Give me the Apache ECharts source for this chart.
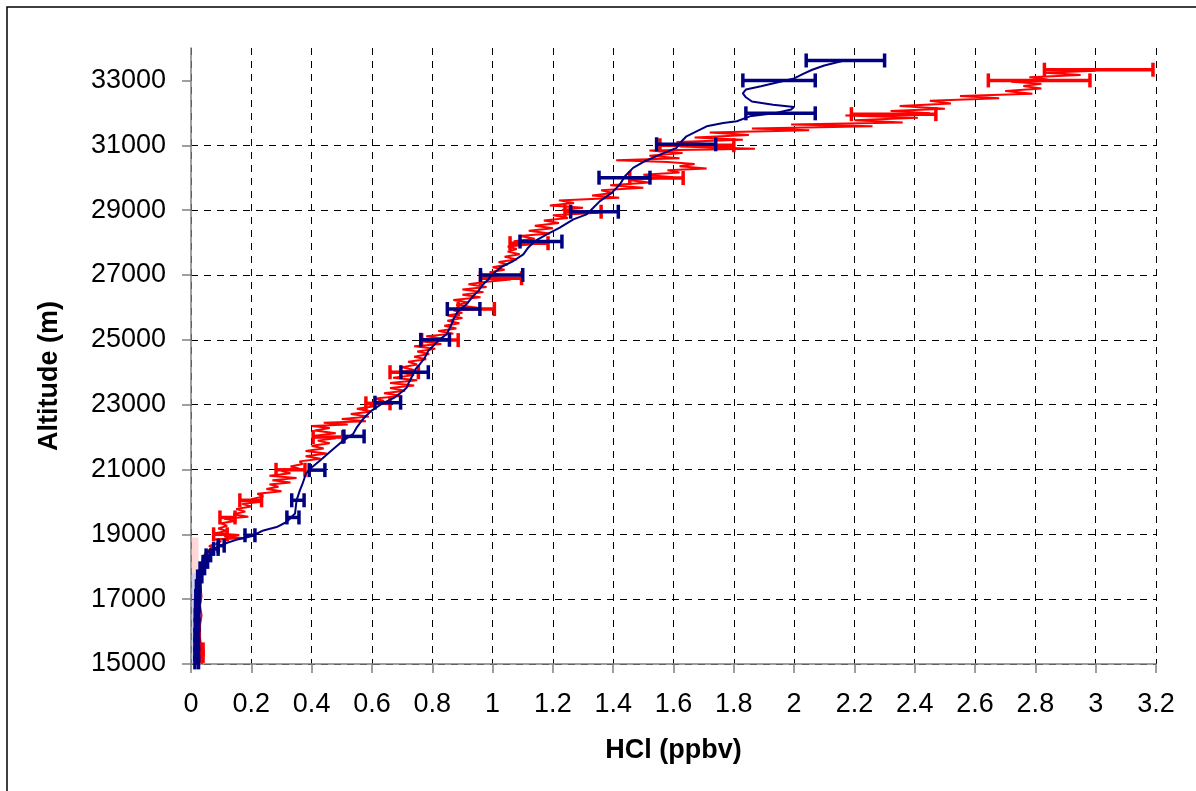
<!DOCTYPE html>
<html>
<head>
<meta charset="utf-8">
<script src="https://cdn.jsdelivr.net/npm/echarts@6/dist/echarts.min.js"></script>
<style>
html,body{margin:0;padding:0;background:#fff;}
#chart{width:1196px;height:791px;}
</style>
</head>
<body>
<div id="chart"></div>
<script>
// ---- Data (HCl mixing ratio in ppbv vs altitude in m) ----
const xTicks = [0, 0.2, 0.4, 0.6, 0.8, 1, 1.2, 1.4, 1.6, 1.8, 2, 2.2, 2.4, 2.6, 2.8, 3, 3.2];
const yTicks = [15000, 17000, 19000, 21000, 23000, 25000, 27000, 29000, 31000, 33000];

// red profile: [HCl, altitude]
const redProfile = [
[0.035,15000],[0.04,15150],[0.03,15300],[0.035,15500],[0.03,15800],[0.03,16200],[0.035,16500],[0.03,16800],[0.035,17100],[0.03,17400],[0.025,17700],[0.03,17900],[0.035,18100],[0.04,18300],[0.05,18450],[0.07,18580],[0.06,18640],[0.09,18720],[0.1,18800],[0.08,18850],
[0.18,18880],[0.11,18930],[0.16,18980],[0.08,19030],[0.12,19100],[0.09,19180],[0.12,19260],[0.1,19340],[0.15,19420],[0.11,19480],[0.19,19540],[0.14,19620],[0.18,19700],[0.15,19780],[0.2,19860],[0.17,19940],
[0.23,20000],[0.2,20080],[0.24,20170],[0.22,20250],[0.3,20330],[0.25,20400],[0.29,20470],[0.26,20540],[0.33,20600],[0.27,20670],[0.35,20740],[0.26,20810],[0.33,20880],[0.3,20950],[0.36,21020],[0.33,21090],
[0.37,21170],[0.36,21250],[0.43,21330],[0.38,21410],[0.45,21490],[0.38,21570],[0.44,21650],[0.4,21730],[0.46,21810],[0.42,21890],[0.48,21960],[0.41,22040],[0.48,22120],[0.41,22200],[0.46,22280],[0.4,22340],
[0.52,22390],[0.44,22440],[0.58,22490],[0.5,22560],[0.59,22630],[0.53,22710],[0.6,22790],[0.55,22870],[0.61,22950],[0.58,23030],[0.64,23110],[0.61,23190],[0.7,23270],[0.64,23350],[0.71,23430],[0.66,23510],
[0.74,23590],[0.66,23670],[0.75,23750],[0.67,23830],[0.74,23910],[0.69,23990],[0.74,24070],[0.7,24150],[0.75,24240],[0.72,24320],[0.78,24400],[0.74,24480],[0.79,24560],[0.75,24640],[0.81,24720],[0.74,24800],
[0.83,24870],[0.77,24950],[0.84,25030],[0.78,25110],[0.87,25190],[0.82,25270],[0.88,25350],[0.84,25430],[0.89,25510],[0.85,25590],[0.9,25670],[0.85,25750],[0.9,25830],[0.87,25910],[0.95,25990],[0.88,26070],
[0.92,26150],[0.87,26230],[0.96,26310],[0.9,26390],[0.97,26470],[0.9,26550],[0.98,26630],[0.92,26710],[0.98,26790],[1.06,26860],[0.97,26930],[1.03,27000],[0.99,27080],[1.04,27160],[1.0,27240],[1.05,27320],
[1.02,27400],[1.08,27480],[1.04,27560],[1.09,27640],[1.05,27720],[1.08,27800],[1.05,27880],[1.15,27960],[1.07,28040],[1.14,28120],[1.09,28200],[1.19,28280],[1.12,28360],[1.2,28440],[1.14,28520],[1.22,28600],
[1.17,28680],[1.25,28760],[1.2,28840],[1.35,28920],[1.23,29000],[1.3,29070],[1.19,29140],[1.27,29220],[1.22,29300],[1.42,29380],[1.33,29450],[1.4,29530],[1.36,29610],[1.5,29690],[1.39,29770],[1.52,29850],
[1.45,29930],[1.6,30010],[1.5,30090],[1.62,30160],[1.58,30230],[1.71,30280],[1.62,30350],[1.67,30420],[1.58,30480],[1.41,30540],[1.62,30600],[1.52,30680],[1.63,30760],[1.52,30840],[1.87,30890],[1.62,30960],
[1.72,31030],[1.61,31100],[1.83,31170],[1.67,31240],[1.85,31320],[1.72,31390],[2.05,31460],[1.86,31520],[2.26,31590],[1.99,31640],[2.36,31700],[2.2,31770],[2.41,31850],[2.17,31920],[2.45,31990],[2.32,32060],
[2.5,32130],[2.35,32210],[2.52,32290],[2.45,32370],[2.68,32450],[2.55,32520],[2.79,32590],[2.7,32670],[2.82,32750],[2.76,32830],[2.82,32900],[2.72,32960],[2.84,33030],[2.78,33100],[2.95,33170],[2.83,33240],[3.0,33300]
];

// blue profile: [HCl, altitude]
const blueProfile = [
[0.02,15000],[0.015,15200],[0.02,15500],[0.018,16000],[0.02,16500],[0.022,17000],[0.025,17400],[0.03,17800],
[0.035,18000],[0.045,18300],[0.06,18480],[0.09,18610],[0.12,18740],[0.15,18830],[0.2,18940],[0.24,19120],
[0.284,19225],[0.317,19380],[0.345,19640],[0.35,20046],[0.361,20354],[0.37,20560],[0.381,20870],[0.395,21020],
[0.428,21277],[0.466,21585],[0.505,21892],[0.538,22100],[0.55,22300],[0.566,22508],[0.58,22650],[0.599,22815],[0.632,23020],[0.676,23225],
[0.704,23430],[0.715,23520],[0.72,23636],[0.737,23943],[0.745,24100],[0.759,24250],[0.776,24456],[0.787,24660],[0.809,24867],[0.826,25020],
[0.848,25175],[0.859,25380],[0.865,25500],[0.87,25637],[0.886,25892],[0.914,26098],[0.936,26354],[0.953,26508],[0.969,26714],
[0.985,26850],[0.997,27000],[1.025,27225],[1.069,27430],[1.102,27636],[1.118,27840],[1.14,28046],[1.18,28252],[1.223,28457],
[1.268,28715],[1.312,28868],[1.334,29072],[1.356,29277],[1.395,29533],[1.422,29790],[1.439,30046],[1.466,30302],
[1.505,30508],[1.555,30713],[1.61,30918],[1.627,31123],[1.643,31277],[1.688,31483],[1.71,31585],[1.765,31688],
[1.81,31740],[1.853,31893],[1.94,31995],[1.99,32100],[2.0,32180],[1.93,32250],[1.86,32350],[1.84,32480],
[1.83,32600],[1.84,32720],[1.89,32820],[1.95,32950],[2.0,33060],[2.03,33200],[2.06,33330],[2.1,33460],[2.17,33620]
];

// error bars: [low, high, altitude]
const redErrors = [
[2.83,3.19,33330],[2.644,2.981,33000],[2.19,2.47,31960],[1.555,1.80,31000],[1.455,1.632,29990],
[1.24,1.36,28950],[1.058,1.184,27980],[0.96,1.096,26900],[0.886,1.006,25950],[0.765,0.886,24990],
[0.66,0.754,24000],[0.58,0.66,23040],[0.405,0.503,22000],[0.282,0.378,20990],[0.162,0.234,20050],
[0.096,0.146,19520],[0.075,0.12,19000],[0.03,0.04,15250],[0.03,0.04,15450]
];
const blueErrors = [
[2.04,2.30,33615],[1.83,2.07,33000],[1.84,2.07,31985],[1.544,1.74,31030],[1.353,1.522,30000],
[1.259,1.417,28950],[1.091,1.23,28030],[0.96,1.10,27000],[0.85,0.958,25950],[0.762,0.857,25000],
[0.696,0.787,24000],[0.61,0.695,23060],[0.507,0.574,22020],[0.392,0.444,20980],[0.334,0.375,20050],
[0.318,0.358,19520],[0.179,0.212,18970],[0.09,0.11,18650],[0.075,0.09,18550],[0.05,0.065,18350],
[0.04,0.055,18150],[0.03,0.045,17950],[0.022,0.036,17700],[0.018,0.03,17400],[0.016,0.028,17100],
[0.015,0.027,16800],[0.014,0.026,16500],[0.014,0.026,16200],[0.013,0.025,15900],[0.013,0.025,15600],
[0.013,0.025,15300],[0.013,0.025,15050]
];

// faint bands near the tropopause: [xLow, xHigh, altLow, altHigh]
const redBand = [0, 0.025, 17800, 18900];
const blueBand = [0, 0.02, 15000, 17800];

const FONT = "'Liberation Sans', Arial, sans-serif";
const RED = '#ff0000';
const BLUE = '#000080';

function errorBars(color) {
  return function (params, api) {
    const a = api.coord([api.value(0), api.value(2)]);
    const b = api.coord([api.value(1), api.value(2)]);
    const h = 7;
    const style = { stroke: color, lineWidth: 3.5, fill: null };
    return {
      type: 'group',
      children: [
        { type: 'line', shape: { x1: a[0], y1: a[1], x2: b[0], y2: b[1] }, style: style },
        { type: 'line', shape: { x1: a[0], y1: a[1] - h, x2: a[0], y2: a[1] + h }, style: style },
        { type: 'line', shape: { x1: b[0], y1: b[1] - h, x2: b[0], y2: b[1] + h }, style: style }
      ]
    };
  };
}

const chart = echarts.init(document.getElementById('chart'), null, { renderer: 'canvas' });
chart.setOption({
  animation: false,
  backgroundColor: '#ffffff',
  graphic: [
    { type: 'rect', z: -10, shape: { x: 7, y: 7, width: 1300, height: 900 },
      style: { fill: 'none', stroke: '#000', lineWidth: 1.5 } },
    { type: 'text', x: 50, y: 376, rotation: Math.PI / 2,
      style: { text: 'Altitude (m)', font: "bold 27px " + FONT, fill: '#000',
               textAlign: 'center', textVerticalAlign: 'middle' } }
  ],
  grid: { left: 191, right: 40, top: 48, bottom: 127, containLabel: false, outerBoundsMode: 'none' },
  xAxis: {
    type: 'value', min: 0, max: 3.2, interval: 0.2,
    name: 'HCl (ppbv)', nameLocation: 'middle', nameGap: 73,
    nameTextStyle: { fontFamily: FONT, fontSize: 27, fontWeight: 'bold', color: '#000' },
    axisLine: { show: true, lineStyle: { color: '#808080', width: 1.5 } },
    axisTick: { show: true, length: 9, lineStyle: { color: '#808080', width: 1.5 }, customValues: xTicks },
    axisLabel: { fontFamily: FONT, fontSize: 27, color: '#000', margin: 27, customValues: xTicks,
                 showMinLabel: true, showMaxLabel: true },
    splitLine: { show: true, lineStyle: { color: '#000', width: 1, type: [7, 6] } }
  },
  yAxis: {
    type: 'value', min: 15000, max: 34000, interval: 2000,
    axisLine: { show: true, lineStyle: { color: '#808080', width: 1.5 } },
    axisTick: { show: true, length: 9, lineStyle: { color: '#808080', width: 1.5 }, customValues: yTicks },
    axisLabel: { fontFamily: FONT, fontSize: 27, color: '#000', margin: 25, customValues: yTicks,
                 formatter: function (v) { return String(v); } },
    splitLine: { show: true, showMaxLine: false, lineStyle: { color: '#000', width: 1, type: [7, 6] } }
  },
  series: [
    {
      type: 'line', data: redProfile, showSymbol: false, symbol: 'none',
      lineStyle: { color: RED, width: 2 }, z: 2,
      markArea: { silent: true, itemStyle: { color: 'rgba(255,140,140,0.35)' },
        data: [[{ coord: [redBand[0], redBand[2]] }, { coord: [redBand[1], redBand[3]] }]] }
    },
    { type: 'custom', data: redErrors, renderItem: errorBars(RED), encode: { x: [0, 1], y: 2 }, z: 3 },
    {
      type: 'line', data: blueProfile, showSymbol: false, symbol: 'none',
      lineStyle: { color: BLUE, width: 2 }, z: 4,
      markArea: { silent: true, itemStyle: { color: 'rgba(140,140,210,0.4)' },
        data: [[{ coord: [blueBand[0], blueBand[2]] }, { coord: [blueBand[1], blueBand[3]] }]] }
    },
    { type: 'custom', data: blueErrors, renderItem: errorBars(BLUE), encode: { x: [0, 1], y: 2 }, z: 5 }
  ]
});
</script>
</body>
</html>
